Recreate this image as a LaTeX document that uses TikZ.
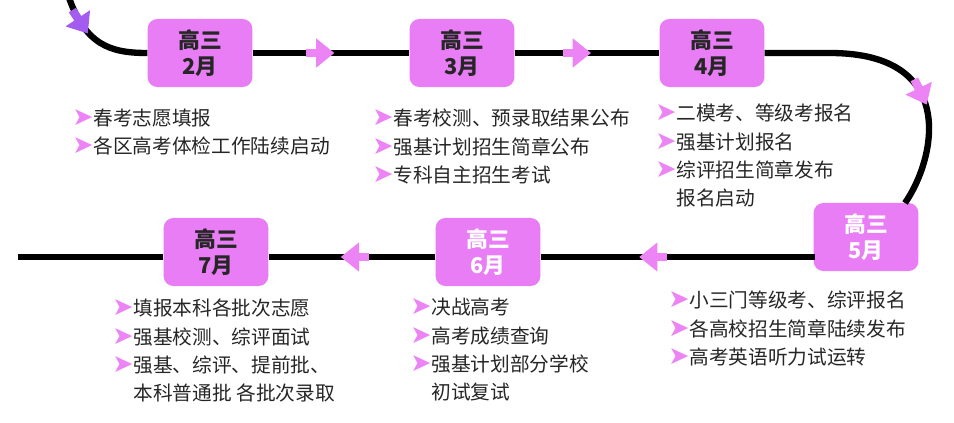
\documentclass[tikz,border=0pt]{standalone}
\usepackage{fontspec}
\setmainfont{Noto Sans CJK SC}
\newfontfamily\symfont{DejaVu Sans}
\usetikzlibrary{arrows.meta,decorations.markings}
\definecolor{boxpink}{HTML}{E87DF5}
\definecolor{arrpink}{HTML}{EC84F6}
\definecolor{arrviolet}{HTML}{A35BF0}
\newcommand{\bul}{{\symfont\fontsize{18}{20}\selectfont\color{arrpink}➤}}
\begin{document}
\begin{tikzpicture}[x=0.025cm, y=-0.025cm]
	\tikzset{
	    month/.style= {draw=none, fill=boxpink, rounded corners=7pt, minimum width=2.62cm, minimum height=1.7cm, align=center, font=\fontsize{15.5}{19}\selectfont\bfseries, text=black!85},
	    whitemonth/.style= {month, text=white},
	    track/.style= {line width=4.5pt, black},
	    flow/.style= {postaction=decorate, decoration={markings, mark=at position #1 with {\draw[line width=6pt, arrpink, -{Triangle[width=20pt,length=13pt]}] (-12pt,0) -- (8pt,0);}}},
	    items/.style= {anchor=north west, align=left, font=\fontsize{14}{20}\selectfont, text=black!85, inner sep=0pt},
	}
	\useasboundingbox (0,0) rectangle (954,422);
	
	\node[month] (m2) at (200,53) {高三\\2月};
	\node[month] (m3) at (462,53) {高三\\3月};
	\node[month] (m4) at (712,53) {高三\\4月};
	\node[whitemonth] (m5) at (866,237) {高三\\5月};
	\node[whitemonth] (m6) at (488,252) {高三\\6月};
	\node[month] (m7) at (216,252) {高三\\7月};
	
	\coordinate (start) at (68,-5);
	\coordinate (turn) at (830,53);
	\coordinate (c5) at (905,203);
	\coordinate (finish) at (18,257);
	\coordinate (m5in) at (815,257);
	
	\draw[track, postaction=decorate, decoration={markings, mark=at position 0.3 with {\draw[line width=6pt, arrviolet, -{Triangle[width=20pt,length=13pt]}] (-12pt,0) -- (8pt,0);}}]
	    (start) .. controls (85,45) and (110,53) .. (m2.west);
	\draw[track, flow=0.45] (m2.east) -- (m3.west);
	\draw[track, flow=0.45] (m3.east) -- (m4.west);
	\draw[track, flow=0.6] (m4.east) -- (turn) .. controls (960,53) and (935,160) .. (c5);
	\draw[track, flow=0.6] (m5in) -- (m6.east |- m5in);
	\draw[track, flow=0.5] (m6.west |- m5in) -- (m7.east |- m5in);
	\draw[track] (m7.west |- m5in) -- (finish);
	
	\node[items] (l2) at (72,109) {\bul 春考志愿填报\\\bul 各区高考体检工作陆续启动};
	\node[items] (l3) at (372,109) {\bul 春考校测、预录取结果公布\\\bul 强基计划招生简章公布\\\bul 专科自主招生考试};
	\node[items] (l4) at (655,104) {\bul 二模考、等级考报名\\\bul 强基计划报名\\\bul 综评招生简章发布\\\phantom{\bul }报名启动};
	\node[items] (l5) at (668,291) {\bul 小三门等级考、综评报名\\\bul 各高校招生简章陆续发布\\\bul 高考英语听力试运转};
	\node[items] (l6) at (410,298) {\bul 决战高考\\\bul 高考成绩查询\\\bul 强基计划部分学校\\\phantom{\bul }初试复试};
	\node[items] (l7) at (112,299) {\bul 填报本科各批次志愿\\\bul 强基校测、综评面试\\\bul 强基、综评、提前批、\\\phantom{\bul }本科普通批 各批次录取};
\end{tikzpicture}
\end{document}
